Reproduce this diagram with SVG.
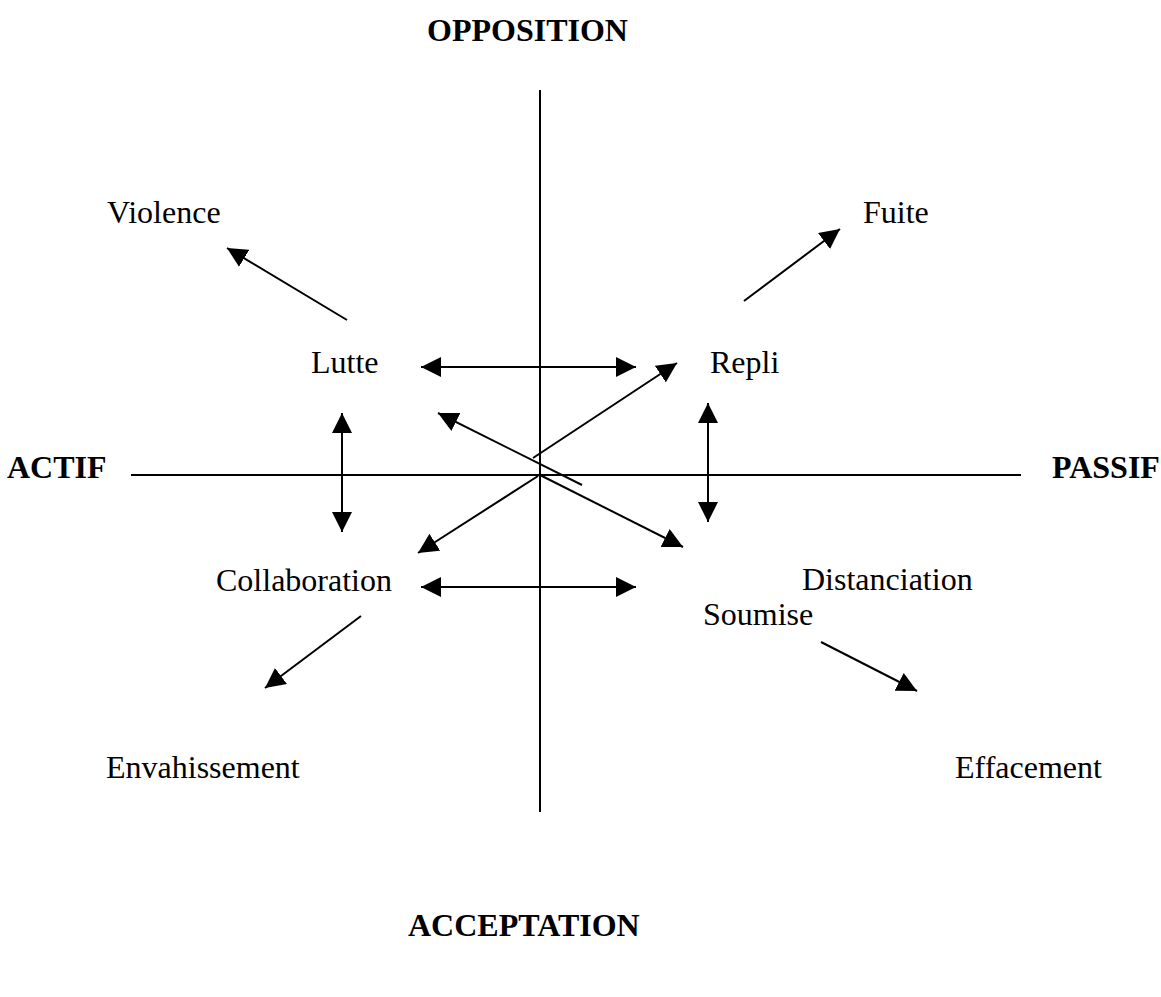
<svg xmlns="http://www.w3.org/2000/svg" width="1161" height="997" viewBox="0 0 1161 997">
<defs>
<style>
text{font-family:"Liberation Serif","Times New Roman",serif;font-size:32px;fill:#000}
.b{font-weight:bold}
.ax{stroke:#000;stroke-width:2;fill:none}
.ar{stroke:#000;stroke-width:2;fill:none}
.one{marker-end:url(#ah)}
.two{marker-start:url(#ah);marker-end:url(#ah)}
</style>
<marker id="ah" markerUnits="userSpaceOnUse" markerWidth="20" markerHeight="20" refX="20" refY="10" orient="auto-start-reverse" viewBox="0 0 20 20">
<path d="M0,0 L20,10 L0,20 Z" fill="#000"/>
</marker>
</defs>
<rect width="1161" height="997" fill="#fff"/>
<g id="axes">
<line class="ax" x1="540" y1="90" x2="540" y2="812"/>
<line class="ax" x1="131" y1="475" x2="1021" y2="475"/>
</g>
<g id="connectors">
<line class="ar one" x1="347" y1="320" x2="227" y2="248"/>
<line class="ar one" x1="744" y1="301" x2="840" y2="229"/>
<line class="ar two" x1="421" y1="367" x2="636" y2="367"/>
<line class="ar two" x1="421" y1="587" x2="636" y2="587"/>
<line class="ar two" x1="342" y1="413" x2="342" y2="532"/>
<line class="ar two" x1="708" y1="403" x2="708" y2="522"/>
<line class="ar one" x1="533" y1="458" x2="677" y2="363"/>
<line class="ar one" x1="582" y1="485" x2="438" y2="413"/>
<line class="ar one" x1="538" y1="476" x2="418" y2="553"/>
<line class="ar one" x1="540" y1="475" x2="683" y2="547"/>
<line class="ar one" x1="361" y1="616" x2="265" y2="688"/>
<line class="ar one" x1="821" y1="642" x2="917" y2="691"/>
</g>
<g id="opposition"><text class="b" x="427" y="41">OPPOSITION</text></g>
<g id="acceptation"><text class="b" x="408" y="936">ACCEPTATION</text></g>
<g id="actif"><text class="b" x="7" y="478">ACTIF</text></g>
<g id="passif"><text class="b" x="1052" y="478">PASSIF</text></g>
<g id="violence"><text x="107" y="223">Violence</text></g>
<g id="fuite"><text x="863" y="223">Fuite</text></g>
<g id="lutte"><text x="311" y="373">Lutte</text></g>
<g id="repli"><text x="710" y="373">Repli</text></g>
<g id="collaboration"><text x="216" y="591">Collaboration</text></g>
<g id="distanciation"><text x="802" y="590">Distanciation</text></g>
<g id="soumise"><text x="703" y="625">Soumise</text></g>
<g id="envahissement"><text x="106" y="778">Envahissement</text></g>
<g id="effacement"><text x="955" y="778">Effacement</text></g>
</svg>
